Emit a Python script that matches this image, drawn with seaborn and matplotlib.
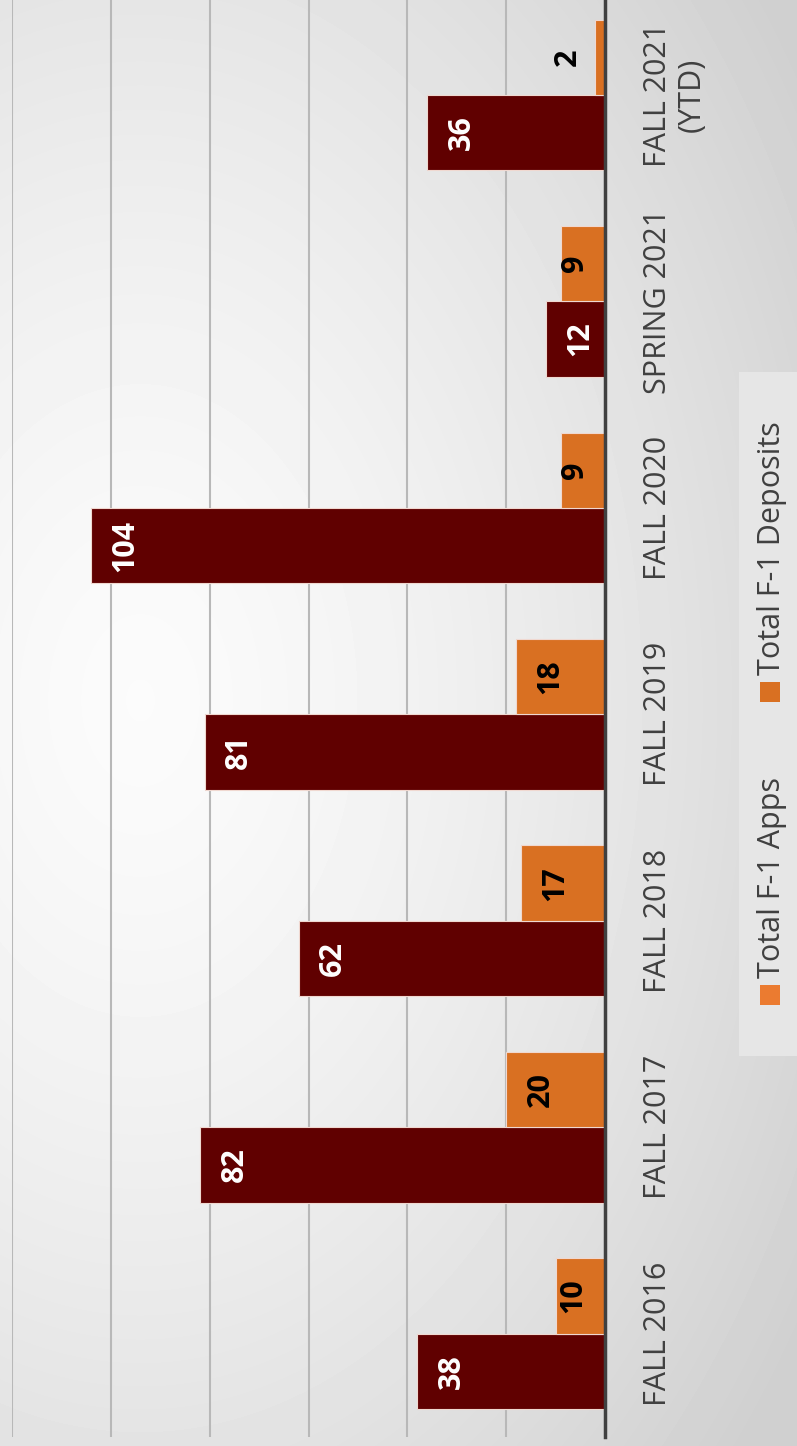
import numpy as np
import pandas as pd
import matplotlib
matplotlib.use("Agg")
import matplotlib.pyplot as plt
import seaborn as sns
from matplotlib.patches import Rectangle

# ---- data ----
terms = ["FALL 2016", "FALL 2017", "FALL 2018", "FALL 2019", "FALL 2020",
         "SPRING 2021", "FALL 2021\n(YTD)"]
apps = [38, 82, 62, 81, 104, 12, 36]
deposits = [10, 20, 17, 18, 9, 9, 2]
series = ["Total F-1 Apps", "Total F-1 Deposits"]
x_ticks = [0, 20, 40, 60, 80, 100, 120]

APP_COL = "#600000"
DEP_COL = "#D97022"
LEG_APP_COL = "#EB7B30"

sns.set_theme(style="white")
plt.rcParams["font.family"] = ["Open Sans", "DejaVu Sans"]

W, H = 797, 1446
fig = plt.figure(figsize=(W / 100, H / 100), dpi=100)

# background gradient
bg = fig.add_axes([0, 0, 1, 1], zorder=0)
yy, xx = np.mgrid[0:H, 0:W]
d = np.sqrt(((xx - 140) / 720.0) ** 2 + ((yy - 700) / 1050.0) ** 2)
img = 0.985 - 0.15 * np.clip(d, 0, 1.1) ** 1.4
bg.imshow(img, cmap="gray", vmin=0, vmax=1, extent=[0, W, H, 0], aspect="auto",
          interpolation="bilinear")
bg.set_xlim(0, W)
bg.set_ylim(H, 0)
bg.axis("off")

ax = fig.add_axes([12 / W, 9 / H, (605 - 12) / W, 1 - 9 / H], zorder=1)
ax.patch.set_alpha(0)

df = pd.DataFrame({
    "term": terms * 2,
    "value": apps + deposits,
    "series": [series[0]] * len(terms) + [series[1]] * len(terms),
})
sns.barplot(data=df, x="value", y="term", hue="series", order=terms,
            hue_order=series, palette=[APP_COL, DEP_COL], orient="h",
            width=0.73, gap=0, ax=ax, legend=False,
            edgecolor="#f0d8d0", linewidth=0.8, saturation=1)

ax.set_xlim(120, 0)
ax.set_ylim(-0.5, 6.46)
ax.set_xticks(x_ticks)
ax.tick_params(axis="x", labelbottom=False, length=0)
ax.grid(axis="x", color="#b8b8b8", lw=1.5)
ax.grid(axis="y", visible=False)
ax.set_axisbelow(True)
ax.set_xlabel("")
ax.set_ylabel("")
for s in ["top", "bottom", "left"]:
    ax.spines[s].set_visible(False)
ax.spines["right"].set_visible(True)
ax.spines["right"].set_color("#404040")
ax.spines["right"].set_linewidth(2.5)
ax.spines["right"].set_zorder(5)

ax.yaxis.tick_right()
ax.set_yticks(range(len(terms)))
ax.set_yticklabels(terms, rotation=90, ha="left", va="center",
                   multialignment="center", fontsize=22, color="#404040")
ax.tick_params(axis="y", length=0, pad=27)


def label_pos(v):
    if v >= 12:
        return v - 7
    if v >= 5:
        return v / 2 + 1.5
    return v + 5.5


for cont, col in zip(ax.containers, ["white", "black"]):
    for bar in cont:
        v = bar.get_width()
        yc = bar.get_y() + bar.get_height() / 2
        ax.text(label_pos(v), yc, f"{int(round(v))}", rotation=90,
                ha="center", va="center", fontsize=22, fontweight="bold",
                color=col, zorder=6)

# legend (rotated, drawn manually)
fig.patches.append(Rectangle((739 / W, 1 - 1056 / H), (W - 739) / W,
                             (1056 - 372) / H, transform=fig.transFigure,
                             facecolor="#e6e6e6", edgecolor="none", zorder=1))
for (txt, mcol, m_y, t_y) in [(series[1], DEP_COL, 692, 675),
                              (series[0], LEG_APP_COL, 995, 978)]:
    fig.patches.append(Rectangle(((770 - 10) / W, 1 - (m_y + 10) / H), 20 / W, 20 / H,
                                 transform=fig.transFigure, facecolor=mcol,
                                 edgecolor="none", zorder=2))
    fig.text(772 / W, 1 - t_y / H, txt, rotation=90, ha="center", va="bottom",
             fontsize=22, color="#404040", zorder=3)

fig.savefig("out.png", dpi=100)
